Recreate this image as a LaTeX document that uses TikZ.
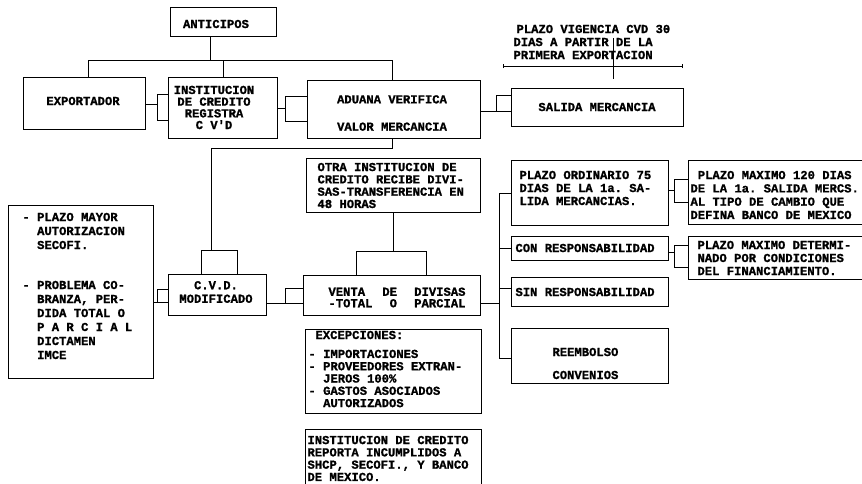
\documentclass[tikz,border=0pt]{standalone}
\usepackage{fontspec}
\setmonofont{Liberation Mono}[BoldFeatures={FakeBold=1.2}]
\begin{document}
\begin{tikzpicture}[x=1pt,y=-1pt,line width=1pt,
  box/.style={draw,inner sep=0pt},
  txt/.style={font=\ttfamily\bfseries\fontsize{12.2}{#1}\selectfont,inner sep=0pt,align=left},
  txt/.default=13.3,
  ctxt/.style={txt=#1,align=center},
  ctxt/.default=13.3]
\useasboundingbox (0,0) rectangle (862,483);
% boxes
\node[box,minimum width=106pt,minimum height=29pt] (ant) at (223,21.5) {};
\node[box,minimum width=122pt,minimum height=52pt] (exp) at (84,103) {};
\node[box,minimum width=109pt,minimum height=61pt] (inst) at (222.5,107.5) {};
\node[box,minimum width=173pt,minimum height=58pt] (adu) at (393.5,109) {};
\node[box,minimum width=172pt,minimum height=38pt] (sal) at (597,107) {};
\node[box,minimum width=174pt,minimum height=54pt] (otra) at (393,185) {};
\node[box,minimum width=98pt,minimum height=41pt] (cvd) at (217,294.5) {};
\node[box,minimum width=145pt,minimum height=173pt] (notes) at (80.5,291.5) {};
\node[box,minimum width=177pt,minimum height=40pt] (venta) at (391.5,295) {};
\node[box,minimum width=157pt,minimum height=65pt] (ord) at (589.5,192.5) {};
\node[box,minimum width=157pt,minimum height=24pt] (con) at (589.5,248) {};
\node[box,minimum width=157pt,minimum height=29pt] (sin) at (589.5,291.5) {};
\node[box,minimum width=157pt,minimum height=55pt] (reem) at (589.5,355.5) {};
\node[box,minimum width=178pt,minimum height=64pt] (pmax) at (777,192) {};
\node[box,minimum width=178pt,minimum height=43pt] (pdet) at (777,257.5) {};
\node[box,minimum width=176pt,minimum height=84pt] (exc) at (393,371) {};
\node[box,minimum width=176pt,minimum height=61pt] (rep) at (393,459.5) {};
% texts
\node[ctxt] (tant) at (216,24) {ANTICIPOS};
\node[ctxt] (texp) at (83,101) {EXPORTADOR};
\node[ctxt=11.7] (tinst) at (214,107.5) {INSTITUCION\\DE CREDITO\\REGISTRA\\C V'D};
\node[ctxt] (tadu) at (392,113) {ADUANA VERIFICA\\[14pt]VALOR MERCANCIA};
\node[ctxt] (tsal) at (597,107) {SALIDA MERCANCIA};
\node[txt=13,anchor=west] (tplazo) at (513,42) {\hspace*{3pt}PLAZO VIGENCIA CVD 30\\DIAS A PARTIR DE LA\\PRIMERA EXPORTACION};
\node[txt=12.3,anchor=west] (totra) at (317,185.5) {OTRA INSTITUCION DE\\CREDITO RECIBE DIVI-\\SAS-TRANSFERENCIA EN\\48 HORAS};
\node[ctxt=13.5] (tcvd) at (216,292) {C.V.D.\\MODIFICADO};
\node[txt=14,anchor=west] (tn1) at (22,231) {- PLAZO MAYOR\\\hphantom{-~}AUTORIZACION\\\hphantom{-~}SECOFI.};
\node[txt=14,anchor=west] (tn2) at (22,320) {- PROBLEMA CO-\\\hphantom{-~}BRANZA, PER-\\\hphantom{-~}DIDA TOTAL O\\\hphantom{-~}P A R C I A L\\\hphantom{-~}DICTAMEN\\\hphantom{-~}IMCE};
\node[txt=11.5,anchor=west] (tventa) at (328,297.5) {\makebox[137pt][l]{VENTA\hfill DE\hfill DIVISAS}\\\makebox[137pt][l]{-TOTAL\hfill O\hfill PARCIAL}};
\node[txt=13,anchor=west] (tord) at (519,188) {PLAZO ORDINARIO 75\\DIAS DE LA 1a. SA-\\LIDA MERCANCIAS.};
\node[txt,anchor=west] (tcon) at (515,248) {CON RESPONSABILIDAD};
\node[txt,anchor=west] (tsin) at (515,292) {SIN RESPONSABILIDAD};
\node[txt,anchor=west] (treem) at (552,363.5) {REEMBOLSO\\[9.7pt]CONVENIOS};
\node[txt=13.3,anchor=west] (tpmax) at (690,195) {\hphantom{X}PLAZO MAXIMO 120 DIAS\\DE LA 1a. SALIDA MERCS.\\AL TIPO DE CAMBIO QUE\\DEFINA BANCO DE MEXICO};
\node[txt=13,anchor=west] (tpdet) at (697,258) {PLAZO MAXIMO DETERMI-\\NADO POR CONDICIONES\\DEL FINANCIAMIENTO.};
\node[txt,anchor=west] (texc1) at (315,335) {EXCEPCIONES:};
\node[txt=12.3,anchor=west] (texc2) at (308,378.5) {- IMPORTACIONES\\- PROVEEDORES EXTRAN-\\\hphantom{-~}JEROS 100\%\\- GASTOS ASOCIADOS\\\hphantom{-~}AUTORIZADOS};
\node[txt=12.3,anchor=west] (trep) at (307,458.5) {INSTITUCION DE CREDITO\\REPORTA INCUMPLIDOS A\\SHCP, SECOFI., Y BANCO\\DE MEXICO.};
% timeline
\coordinate (tl1) at (503,66);
\coordinate (tl2) at (682,66);
\coordinate (tlt) at (613,38);
\coordinate (tlb) at (613,79);
\draw (tl1) -- (tl2);
\draw (tlt) -- (tlb);
\draw ([yshift=-2pt]tl1) -- ([yshift=2pt]tl1);
\draw ([yshift=-2pt]tl2) -- ([yshift=2pt]tl2);
% anticipos tree
\draw (ant.south -| 210,0) -- (210,60);
\draw (exp.north -| 88,0) -- (88,60) -- (392,60) -- (adu.north -| 392,0);
\draw (223,60) -- (inst.north -| 223,0);
% exp - inst
\draw (exp.east |- 0,104) -- (157,104);
\draw (inst.west |- 0,94) -| (157,120) -- (inst.west |- 0,120);
% inst - adu
\draw (inst.east |- 0,108) -- (285,108);
\draw (adu.west |- 0,96) -| (285,121) -- (adu.west |- 0,121);
% adu - sal
\draw (adu.east |- 0,111) -- (496,111);
\draw (sal.west |- 0,95) -| (496,111) -- (sal.west |- 0,111);
% adu - cvd
\draw (adu.south -| 392,0) -- (392,148) -- (211,148) -- (211,250);
\draw (cvd.north -| 201,0) -- (201,250) -- (237,250) -- (cvd.north -| 237,0);
% notes - cvd
\draw (notes.east |- 0,302) -- (157,302);
\draw (cvd.west |- 0,289) -| (157,302) -- (cvd.west |- 0,302);
% cvd - venta
\draw (cvd.east |- 0,303) -- (285,303);
\draw (venta.west |- 0,288) -| (285,303) -- (venta.west |- 0,303);
% otra - venta
\draw (otra.south -| 393,0) -- (393,251);
\draw (venta.north -| 356,0) -- (356,251) -- (426,251) -- (venta.north -| 426,0);
% venta - right column
\draw (venta.east |- 0,303) -- (499,303);
\draw (ord.west |- 0,193) -| (499,358) -- (reem.west |- 0,358);
\draw (499,248) -- (con.west |- 0,248);
\draw (499,288) -- (sin.west |- 0,288);
% ord - pmax
\draw (ord.east |- 0,190) -- (674,190);
\draw (pmax.west |- 0,179) -| (674,202) -- (pmax.west |- 0,202);
% con - pdet
\draw (con.east |- 0,252) -- (674,252);
\draw (pdet.west |- 0,245) -| (674,267) -- (pdet.west |- 0,267);
\end{tikzpicture}
\end{document}
